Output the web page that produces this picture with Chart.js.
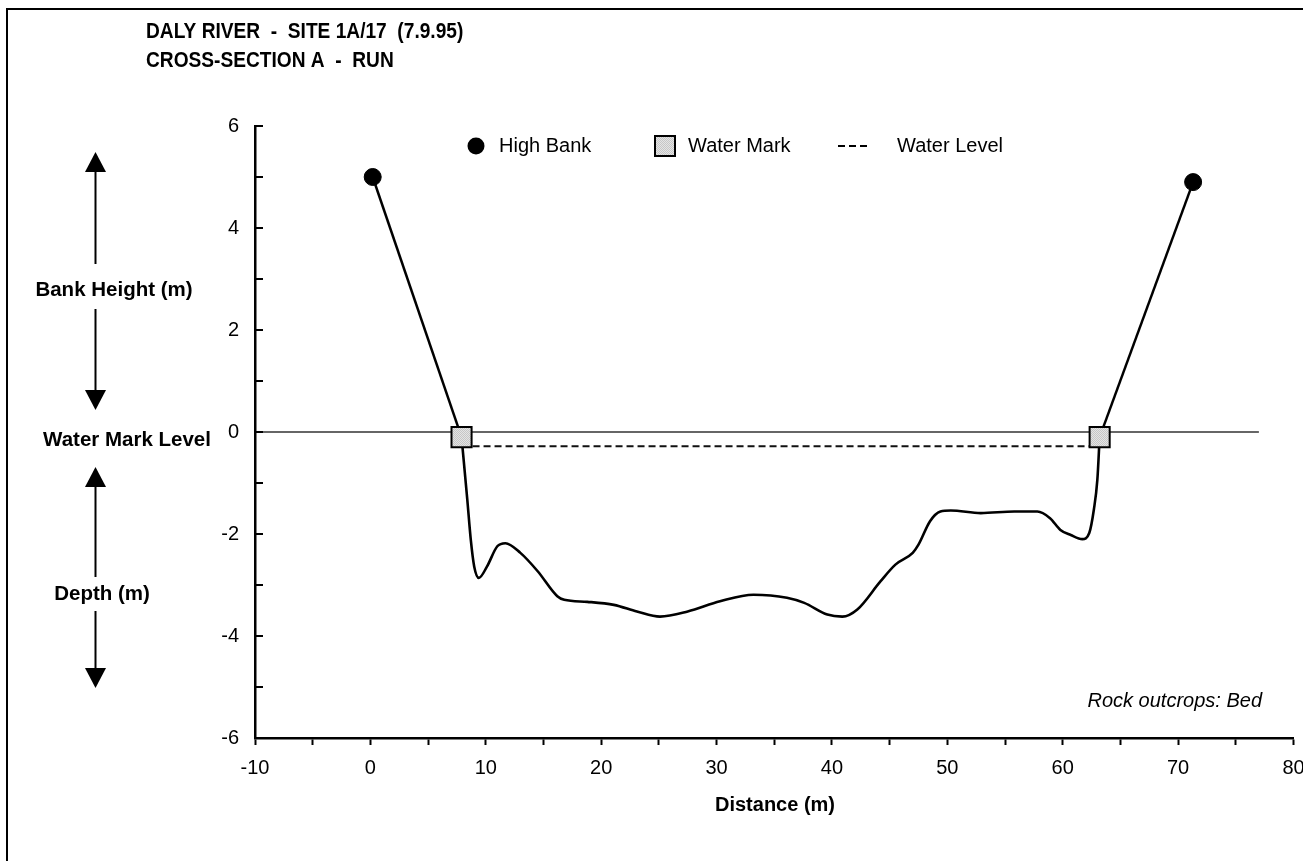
<!DOCTYPE html>
<html>
<head>
<meta charset="utf-8">
<script src="https://cdn.jsdelivr.net/npm/chart.js@4.4.1/dist/chart.umd.min.js"></script>
<style>
  html, body { margin: 0; padding: 0; background: #fff; }
  #wrap { position: relative; width: 1303px; height: 861px; }
</style>
</head>
<body>
<div id="wrap"><canvas id="chart" width="1303" height="861"></canvas></div>
<script>
// Cross-section A, distance (m) vs height relative to water mark (m)
const bedX = [7.9, 8.4, 8.7, 9.0, 9.4, 10.1, 11.0, 11.7, 13.0, 14.5, 16.2, 16.8, 18.8, 21.1, 23.1, 25.1, 27.5, 30.3, 33.2, 36.1, 37.6, 39.6, 40.9, 42.2, 44.2, 45.5, 47.0, 47.5, 48.5, 49.4, 50.3, 52.9, 55.8, 57.8, 58.9, 59.8, 60.7, 61.7, 62.3, 62.7, 63.0, 63.2];
const bedY = [-0.1, -1.33, -2.11, -2.64, -2.86, -2.64, -2.24, -2.18, -2.37, -2.73, -3.22, -3.29, -3.33, -3.39, -3.52, -3.62, -3.52, -3.32, -3.19, -3.25, -3.35, -3.58, -3.62, -3.48, -2.93, -2.60, -2.37, -2.21, -1.75, -1.56, -1.54, -1.59, -1.56, -1.56, -1.69, -1.92, -2.02, -2.10, -1.98, -1.52, -0.94, -0.1];

const highBankX = [0.2, 71.3];
const highBankY = [5.0, 4.9];
const waterMarkX = [7.9, 63.2];
const waterMarkY = [-0.1, -0.1];
const waterLevelX = [7.9, 63.2];
const waterLevelY = [-0.28, -0.28];
const zeroLineX = [-10, 77];
const zeroLineY = [0, 0];

const xTicks = { min: -10, max: 80, step: 5, labelEvery: 10 };
const yTicks = { min: -6, max: 6, step: 1, labelEvery: 2 };

const FONT = '"Liberation Sans", Arial, sans-serif';

function pts(xs, ys) {
  return xs.map((x, i) => ({ x: x, y: ys[i] }));
}

// light grey stipple for the water mark squares
function stipple() {
  const c = document.createElement('canvas');
  c.width = 2; c.height = 2;
  const g = c.getContext('2d');
  g.fillStyle = '#e4e4e4'; g.fillRect(0, 0, 2, 2);
  g.fillStyle = '#c6c6c6'; g.fillRect(0, 0, 1, 1); g.fillRect(1, 1, 1, 1);
  return g.createPattern(c, 'repeat');
}

const canvas = document.getElementById('chart');
const ctx = canvas.getContext('2d');
const markFill = stipple();

function arrow(c, x, y1, y2, up) {
  // line from y1 to y2, head at the tip
  const tip = up ? y1 : y2;
  const base = up ? tip + 20 : tip - 20;
  c.beginPath();
  c.moveTo(x, up ? base : y1);
  c.lineTo(x, up ? y2 : base);
  c.stroke();
  c.beginPath();
  c.moveTo(x, tip);
  c.lineTo(x - 10.5, base);
  c.lineTo(x + 10.5, base);
  c.closePath();
  c.fill();
}

const decorations = {
  id: 'decorations',
  afterDraw(chart) {
    const c = chart.ctx;
    const y = chart.scales.y;
    const area = chart.chartArea;
    c.save();

    // y tick marks point into the plot
    c.strokeStyle = '#000';
    c.lineWidth = 2;
    y.ticks.forEach(t => {
      const py = Math.round(y.getPixelForValue(t.value));
      c.beginPath();
      c.moveTo(area.left, py);
      c.lineTo(area.left + 8, py);
      c.stroke();
    });

    // frame
    c.lineWidth = 2;
    c.strokeRect(7, 9, 1320, 880);

    // title, a little condensed like the original
    c.fillStyle = '#000';
    c.textBaseline = 'middle';
    c.textAlign = 'left';
    c.save();
    c.translate(146, 0);
    c.scale(0.87, 1);
    c.font = 'bold 22px ' + FONT;
    c.fillText('DALY RIVER  -  SITE 1A/17  (7.9.95)', 0, 32);
    c.fillText('CROSS-SECTION A  -  RUN', 0, 61);
    c.restore();

    // side labels and arrows
    c.font = 'bold 20.5px ' + FONT;
    c.textAlign = 'center';
    c.fillText('Bank Height (m)', 114, 290);
    c.fillText('Water Mark Level', 127, 440);
    c.fillText('Depth (m)', 102, 594);
    c.lineWidth = 2;
    arrow(c, 95.5, 152, 264, true);
    arrow(c, 95.5, 309, 410, false);
    arrow(c, 95.5, 467, 577, true);
    arrow(c, 95.5, 611, 688, false);

    // axis title
    c.font = 'bold 20px ' + FONT;
    c.fillText('Distance (m)', 775, 805);

    // note
    c.font = 'italic 20px ' + FONT;
    c.textAlign = 'right';
    c.fillText('Rock outcrops: Bed', 1262, 701);

    // legend
    const ly = 146;
    c.textAlign = 'left';
    c.font = '20px ' + FONT;
    c.beginPath();
    c.arc(476, ly, 8.5, 0, Math.PI * 2);
    c.fill();
    c.fillText('High Bank', 499, ly);
    c.fillStyle = markFill;
    c.fillRect(655, ly - 10, 20, 20);
    c.lineWidth = 2;
    c.strokeRect(655, ly - 10, 20, 20);
    c.fillStyle = '#000';
    c.fillText('Water Mark', 688, ly);
    c.setLineDash([7, 4]);
    c.lineWidth = 2;
    c.beginPath();
    c.moveTo(838, ly);
    c.lineTo(871, ly);
    c.stroke();
    c.setLineDash([]);
    c.fillText('Water Level', 897, ly);

    c.restore();
  }
};

new Chart(ctx, {
  type: 'scatter',
  data: {
    datasets: [
      {
        label: 'Water Mark',
        data: pts(waterMarkX, waterMarkY),
        pointStyle: 'rect',
        pointRadius: 14.2,
        backgroundColor: markFill,
        borderColor: '#000',
        borderWidth: 2,
        showLine: false
      },
      {
        label: 'High Bank',
        data: pts(highBankX, highBankY),
        pointStyle: 'circle',
        pointRadius: 8.5,
        backgroundColor: '#000',
        borderColor: '#000',
        borderWidth: 1,
        showLine: false
      },
      {
        label: 'Left bank',
        data: [{ x: highBankX[0], y: highBankY[0] }, { x: waterMarkX[0], y: waterMarkY[0] }],
        showLine: true,
        pointRadius: 0,
        borderColor: '#000',
        borderWidth: 2.5
      },
      {
        label: 'Right bank',
        data: [{ x: waterMarkX[1], y: waterMarkY[1] }, { x: highBankX[1], y: highBankY[1] }],
        showLine: true,
        pointRadius: 0,
        borderColor: '#000',
        borderWidth: 2.5
      },
      {
        label: 'Bed',
        data: pts(bedX, bedY),
        showLine: true,
        pointRadius: 0,
        borderColor: '#000',
        borderWidth: 2.6,
        cubicInterpolationMode: 'monotone'
      },
      {
        label: 'Water Level',
        data: pts(waterLevelX, waterLevelY),
        showLine: true,
        pointRadius: 0,
        borderColor: '#111',
        borderWidth: 2,
        borderDash: [7, 4]
      },
      {
        label: 'Zero',
        data: pts(zeroLineX, zeroLineY),
        showLine: true,
        pointRadius: 0,
        borderColor: '#333',
        borderWidth: 1.3
      }
    ]
  },
  options: {
    responsive: false,
    animation: false,
    events: [],
    layout: { autoPadding: false, padding: { left: 0, top: 126, right: 9.5, bottom: 0 } },
    plugins: { legend: { display: false }, tooltip: { enabled: false } },
    scales: {
      x: {
        type: 'linear',
        min: xTicks.min,
        max: xTicks.max,
        afterFit: s => { s.height = 123; s.paddingLeft = 0; s.paddingRight = 0; },
        border: { color: '#000', width: 2.5 },
        grid: { drawOnChartArea: false, drawTicks: true, tickLength: 7, tickWidth: 2, tickColor: '#000' },
        ticks: {
          stepSize: xTicks.step,
          autoSkip: false,
          maxRotation: 0,
          padding: 11,
          color: '#000',
          font: { family: FONT, size: 20 },
          callback: v => (v % xTicks.labelEvery === 0 ? String(v) : '')
        }
      },
      y: {
        type: 'linear',
        min: yTicks.min,
        max: yTicks.max,
        afterFit: s => { s.width = 255; s.paddingTop = 0; s.paddingBottom = 0; },
        border: { color: '#000', width: 2.5 },
        grid: { drawOnChartArea: false, drawTicks: false },
        ticks: {
          stepSize: yTicks.step,
          autoSkip: false,
          padding: 16,
          color: '#000',
          font: { family: FONT, size: 20 },
          callback: v => (v % yTicks.labelEvery === 0 ? String(v) : '')
        }
      }
    }
  },
  plugins: [decorations]
});
</script>
</body>
</html>
